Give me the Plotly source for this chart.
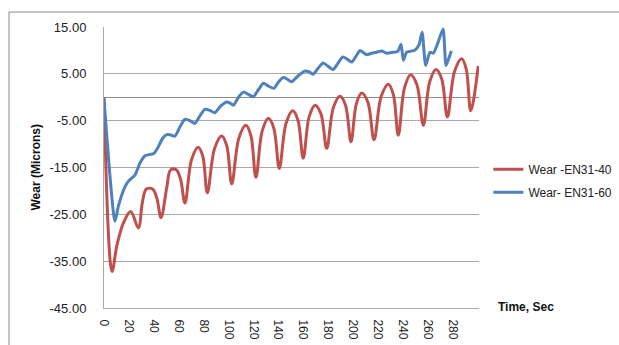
import plotly.graph_objects as go

# ---- data ----
red_name = "Wear -EN31-40"
red_t = [0, 6.4, 10.2, 12.9, 15.5, 21.4, 27.6, 30.8, 34, 39, 42.4, 45.8, 50.4, 53.5, 58,
         61.5, 65, 70.35, 75.7, 79.35, 83, 88.75, 94.5, 98.55, 102.6, 108.3, 114, 118,
         122, 127, 132, 136.4, 140.8, 146.2, 151.6, 155.8, 160, 164.75, 169.5, 174.2,
         178.9, 184.25, 189.6, 194, 198.4, 202.7, 207, 212, 216.9, 222.65, 228.4, 232.4,
         236.4, 241.35, 246.3, 251.4, 256.5, 261.6, 266.7, 271.25, 275.8, 281.55, 287.3,
         290.95, 294.6, 300.6]
red_v = [0, -37.2, -31.8, -29, -26.9, -24.4, -27.9, -22.5, -19.6, -19.6, -21.5, -25.7,
         -19.3, -15.5, -15.5, -17.5, -22.6, -13.3, -10.7, -12.6, -20.4, -11.0, -8.3,
         -10.3, -18.5, -8.75, -6, -8.2, -17.1, -7.3, -4.5, -6.6, -15.2, -5.6, -2.9, -4.9,
         -13, -4.2, -1.7, -3.5, -10.9, -2.2, 0.2, -1.7, -9.5, -1.4, 0.9, -1.1, -9.1, 0.2,
         2.8, 0.6, -8.1, 2.0, 4.8, 2.6, -6, 3.3, 5.9, 3.9, -4.2, 5.5, 8.2, 6.0, -2.9, 6.7]

blue_name = "Wear- EN31-60"
blue_t = [0, 8.8, 11.5, 16.9, 20, 24.9, 29, 33, 37, 40, 43.6, 47, 50.4, 53, 57, 61, 65,
          69, 73, 77, 81, 85, 89, 94, 98.5, 101, 104, 108, 112, 116, 120, 124, 128, 132,
          136.5, 140, 144, 147, 150.7, 156, 161.4, 165, 168, 172, 176, 180, 184, 188,
          191.7, 195, 199, 202, 205.6, 208, 211, 215, 219, 223, 227, 232, 236, 238.6,
          240.4, 243, 246, 249.8, 253, 255.5, 258.4, 261.8, 264.5, 268, 272.3, 274.7,
          276.5, 279]
blue_v = [-0.3, -26.5, -23.3, -19.1, -17.8, -16.6, -14, -12.5, -12.2, -12, -10.6, -8.8,
          -8.0, -8.0, -8.3, -6.3, -4.7, -5.0, -5.6, -4, -2.6, -2.8, -3.3, -1.8, -1.0, -1.2,
          -1.7, 0, 1.1, 0.6, 0.1, 1.6, 3.0, 2.4, 1.9, 3.2, 4.2, 3.9, 3.3, 4.6, 5.6, 5.4,
          4.9, 6.2, 7.3, 6.6, 5.9, 7.3, 8.6, 8.2, 7.5, 8.6, 10, 9.6, 9.1, 9.4, 9.6, 9.9,
          9.4, 9.6, 9.8, 11.3, 7.9, 9.6, 9.8, 10.1, 11.2, 13.9, 6.8, 9.6, 9.4, 11.5, 14.6,
          6.8, 8.0, 9.9]

x_ticks = [0, 20, 40, 60, 80, 100, 120, 140, 160, 180, 200, 220, 240, 260, 280]
y_ticks = [-45, -35, -25, -15, -5, 5, 15]
y_tick_text = ["-45.00", "-35.00", "-25.00", "-15.00", "-5.00", "5.00", "15.00"]

x_title = "Time, Sec"
y_title = "Wear (Microns)"

FONT = "Liberation Sans"
GRID = "#A8A8A8"
FRAME = "#8A8A8A"

fig = go.Figure()
fig.add_trace(go.Scatter(x=red_t, y=red_v, mode="lines", name=red_name,
                         legendgroup="a",
                         line=dict(color="#C0504D", width=3, shape="spline", smoothing=1)))
fig.add_trace(go.Scatter(x=blue_t, y=blue_v, mode="lines", name=blue_name,
                         legendgroup="b",
                         line=dict(color="#4F81BD", width=3, shape="spline", smoothing=0.6)))

fig.update_layout(
    width=619, height=345,
    margin=dict(l=104, r=140, t=27, b=36.5, autoexpand=False),
    paper_bgcolor="white", plot_bgcolor="white",
    font=dict(family=FONT, size=12, color="#222"),
    showlegend=True,
    legend=dict(x=1.025, y=0.545, xanchor="left", yanchor="top",
                font=dict(family=FONT, size=12, color="#222"),
                tracegroupgap=4, bgcolor="rgba(0,0,0,0)", itemwidth=30),
    xaxis=dict(range=[0, 301.2], tickvals=x_ticks, tickangle=90,
               showgrid=False, zeroline=False,
               showline=True, linecolor=GRID, linewidth=1,
               ticks="", ticklabelstandoff=8,
               tickfont=dict(family=FONT, size=12, color="#222")),
    yaxis=dict(range=[-45, 15], tickvals=y_ticks, ticktext=y_tick_text,
               showgrid=True, gridcolor=GRID, gridwidth=1,
               zeroline=True, zerolinecolor="#8C8C8C", zerolinewidth=1,
               showline=True, linecolor=GRID, linewidth=1,
               ticks="", ticklabelstandoff=14,
               tickfont=dict(family=FONT, size=13, color="#222")),
    annotations=[
        dict(text="<b>" + y_title + "</b>", xref="paper", yref="paper",
             x=-0.184, y=0.5, textangle=-90, showarrow=False,
             xanchor="center", yanchor="middle",
             font=dict(family=FONT, size=12, color="#111")),
        dict(text="<b>" + x_title + "</b>", xref="paper", yref="paper",
             x=1.045, y=0.003, showarrow=False, xanchor="left", yanchor="middle",
             font=dict(family=FONT, size=12, color="#111")),
    ],
    shapes=[
        # chart frame: only its left and top edges fall inside the picture
        dict(type="line", xref="paper", yref="paper",
             x0=-0.2533, y0=-0.3, x1=-0.2533, y1=1.0533,
             line=dict(color=FRAME, width=1), layer="below"),
        dict(type="line", xref="paper", yref="paper",
             x0=-0.2533, y0=1.0533, x1=1.6, y1=1.0533,
             line=dict(color=FRAME, width=1), layer="below"),
    ],
)

fig.write_html(
    "out.html",
    config={"displayModeBar": False},
    post_script=(
        "document.documentElement.style.overflow='hidden';"
        "document.body.style.margin='0';document.body.style.overflow='hidden';"
    ),
)
